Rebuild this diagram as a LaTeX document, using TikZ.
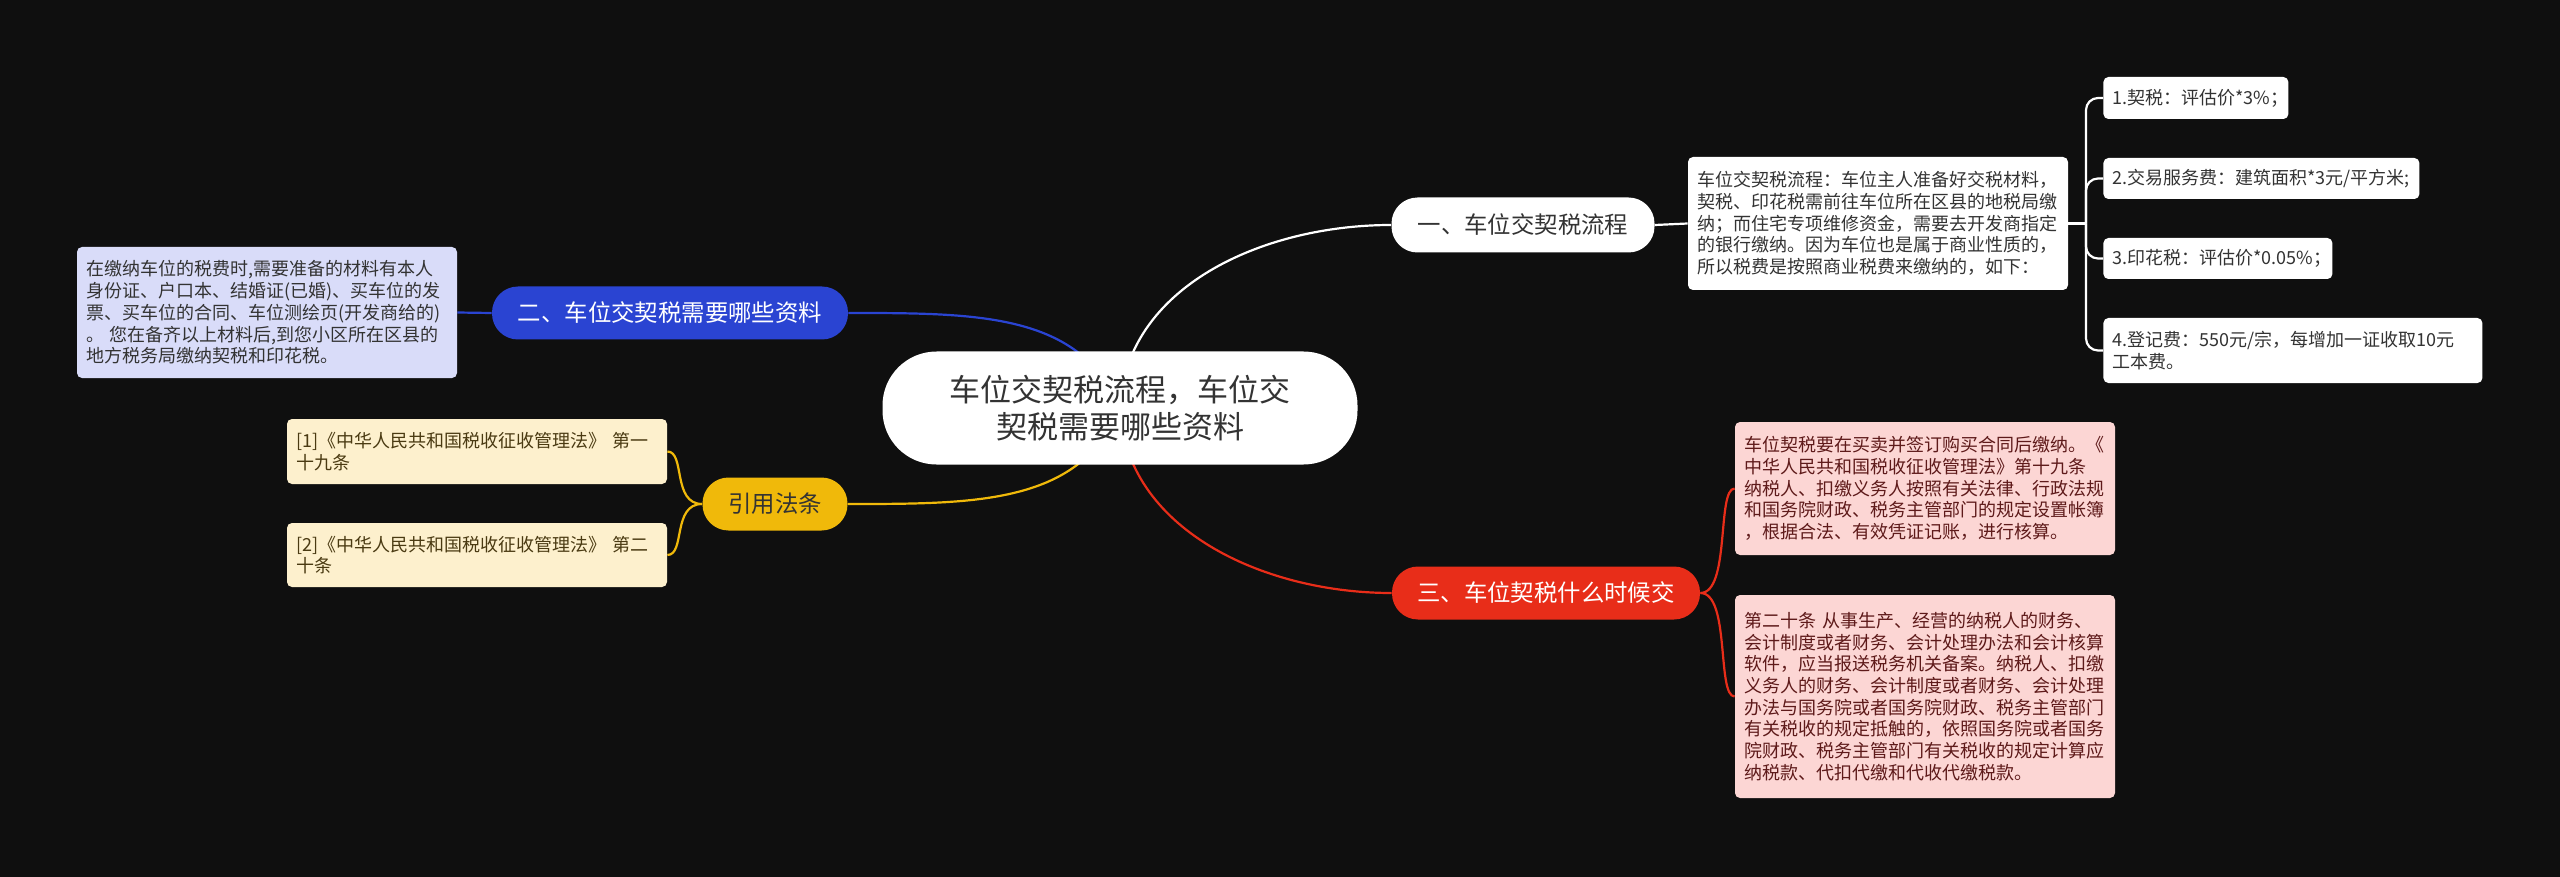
\documentclass[tikz,border=0pt]{standalone}
\usepackage{fontspec}
\setmainfont{Noto Sans CJK SC}
\usetikzlibrary{positioning,backgrounds}
\definecolor{bgdark}{HTML}{0F0F0F}
\definecolor{topicblue}{HTML}{2A44D2}
\definecolor{topicred}{HTML}{E82D19}
\definecolor{topicyellow}{HTML}{F0B90A}
\definecolor{noteblue}{HTML}{D9DCF9}
\definecolor{noteyellow}{HTML}{FDF0CD}
\definecolor{notered}{HTML}{FCD6D4}
\definecolor{txtgray}{HTML}{333333}
\definecolor{txtbrown}{HTML}{4A3A12}
\definecolor{txtred}{HTML}{5E1A1A}

\begin{document}
\begin{tikzpicture}[x=0.5pt, y=-0.5pt,
  rootnode/.style={rectangle, fill=white, text=txtgray, minimum width=237.5pt, minimum height=56.5pt, rounded corners=27pt, align=center, inner sep=0pt, font=\fontsize{15.5}{18.5}\selectfont},
  pill/.style={rectangle, fill=#1, minimum height=26.5pt, rounded corners=13pt, inner sep=0pt, font=\fontsize{11.7}{14}\selectfont},
  note/.style={rectangle, fill=#1, rounded corners=2.5pt, text width=181pt, inner xsep=4.5pt, inner ysep=0pt, align=left, font=\fontsize{9}{10.85}\selectfont},
  item/.style={rectangle, fill=white, text=txtgray, rounded corners=2.5pt, text width=#1, inner xsep=4.5pt, inner ysep=0pt, align=left, anchor=west, font=\fontsize{9}{10.85}\selectfont},
  link/.style={line width=1.1pt, draw=#1}
]
  \useasboundingbox (0,0) rectangle (2560,877);

  % centre
  \node[rootnode] (root) at (1120,408) {车位交契税流程，车位交\\契税需要哪些资料};

  % main topics
  \node[pill=white, text=txtgray, minimum width=131.5pt, minimum height=27.5pt] (t1) at (1523,225) {一、车位交契税流程};
  \node[pill=topicblue, text=white, minimum width=178pt] (t2) at (670,313) {二、车位交契税需要哪些资料};
  \node[pill=topicred, text=white, minimum width=154pt] (t3) at (1546,593) {三、车位契税什么时候交};
  \node[pill=topicyellow, text=txtgray, minimum width=72.5pt] (t4) at (775,504) {引用法条};

  % branch one
  \node[note=white, text=txtgray, minimum height=66.5pt] (n1) at (1878,223.5) {车位交契税流程：车位主人准备好交税材料，\\契税、印花税需前往车位所在区县的地税局缴\\纳；而住宅专项维修资金，需要去开发商指定\\的银行缴纳。因为车位也是属于商业性质的，\\所以税费是按照商业税费来缴纳的，如下：};
  \node[item=83.5pt, minimum height=21pt] (i1) at (2103,98) {1.契税：评估价*3\%；};
  \node[item=149pt, minimum height=20.5pt] (i2) at (2103,178.5) {2.交易服务费：建筑面积*3元/平方米;};
  \node[item=105.5pt, minimum height=20.5pt] (i3) at (2103,258.5) {3.印花税：评估价*0.05\%；};
  \node[item=180.5pt, minimum height=32.5pt] (i4) at (2103,350.5) {4.登记费：550元/宗，每增加一证收取10元\\工本费。};
  \coordinate (brk1) at (2086,223.5);

  % branch two
  \node[note=noteblue, text=txtgray, minimum height=65.5pt] (n2) at (267,312.5) {在缴纳车位的税费时,需要准备的材料有本人\\身份证、户口本、结婚证(已婚)、买车位的发\\票、买车位的合同、车位测绘页(开发商给的)\\。 您在备齐以上材料后,到您小区所在区县的\\地方税务局缴纳契税和印花税。};

  % branch three
  \node[note=notered, text=txtred, minimum height=66.5pt] (r1) at (1925,488.5) {车位契税要在买卖并签订购买合同后缴纳。《\\中华人民共和国税收征收管理法》第十九条\\纳税人、扣缴义务人按照有关法律、行政法规\\和国务院财政、税务主管部门的规定设置帐簿\\，根据合法、有效凭证记账，进行核算。};
  \node[note=notered, text=txtred, minimum height=101.5pt] (r2) at (1925,696.5) {第二十条 从事生产、经营的纳税人的财务、\\会计制度或者财务、会计处理办法和会计核算\\软件，应当报送税务机关备案。纳税人、扣缴\\义务人的财务、会计制度或者财务、会计处理\\办法与国务院或者国务院财政、税务主管部门\\有关税收的规定抵触的，依照国务院或者国务\\院财政、税务主管部门有关税收的规定计算应\\纳税款、代扣代缴和代收代缴税款。};

  % references
  \node[note=noteyellow, text=txtbrown, minimum height=32.5pt] (y1) at (477,451.5) {[1]《中华人民共和国税收征收管理法》 第一\\十九条};
  \node[note=noteyellow, text=txtbrown, minimum height=32pt] (y2) at (477,555) {[2]《中华人民共和国税收征收管理法》 第二\\十条};

  \begin{scope}[on background layer]
    \fill[bgdark] (0,0) rectangle (2560,877);
    % curves from the centre
    \draw[link=white] (root.center) .. controls +(5,-120) and +(-130,0) .. (t1.west);
    \draw[link=topicblue] (root.center) .. controls +(-40,-95) and +(130,0) .. (t2.east);
    \draw[link=topicred] (root.center) .. controls +(5,120) and +(-130,0) .. (t3.west);
    \draw[link=topicyellow] (root.center) .. controls +(-40,96) and +(130,0) .. (t4.east);
    % sub branches
    \draw[link=white] (t1.east) -- (n1.west);
    \draw[link=white] (n1.east) -- (brk1);
    \foreach \i in {i1,i2,i3,i4}
      \draw[link=white, rounded corners=6pt] (brk1) |- (\i.west);
    \draw[link=topicblue] (t2.west) -- (n2.east);
    \draw[link=topicred] (t3.east) .. controls +(30,0) and +(-18,0) .. (r1.west);
    \draw[link=topicred] (t3.east) .. controls +(30,0) and +(-18,0) .. (r2.west);
    \draw[link=topicyellow] (t4.west) .. controls +(-30,0) and +(18,0) .. (y1.east);
    \draw[link=topicyellow] (t4.west) .. controls +(-30,0) and +(18,0) .. (y2.east);
  \end{scope}
\end{tikzpicture}
\end{document}
